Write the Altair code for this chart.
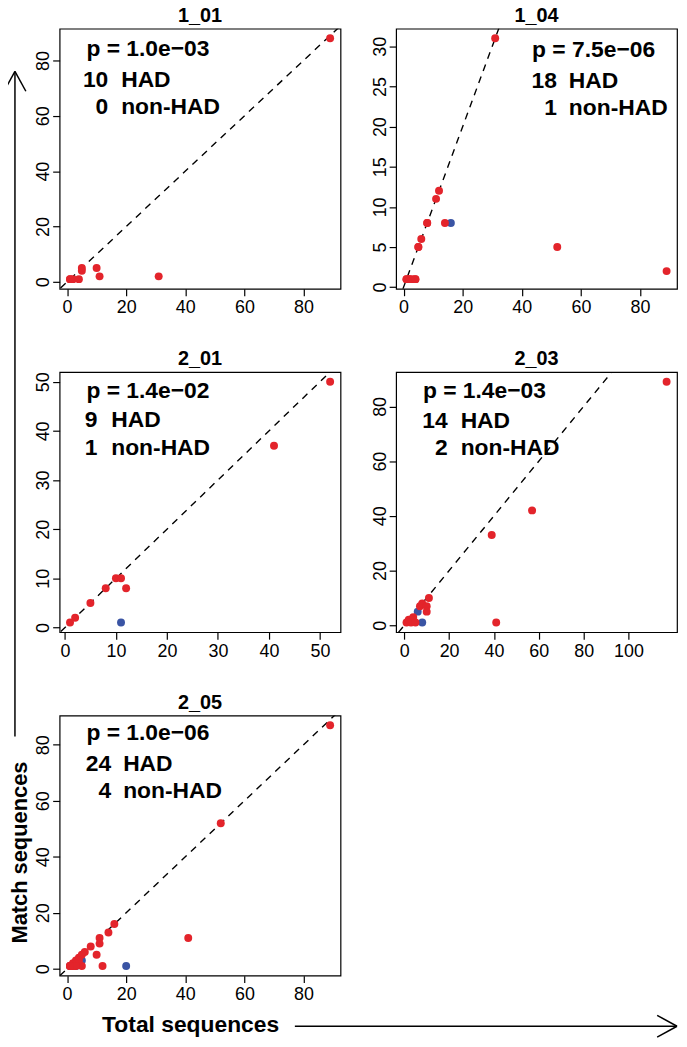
import altair as alt
import pandas as pd

FONT = "Liberation Sans"
RED = "#E3242B"
BLUE = "#3A54A4"

panels = ["1_01", "1_04", "2_01", "2_03", "2_05"]
pvals = ["p = 1.0e\u221203", "p = 7.5e\u221206", "p = 1.4e\u221202",
         "p = 1.4e\u221203", "p = 1.0e\u221206"]
had_n = [10, 18, 9, 14, 24]
nonhad_n = [0, 1, 1, 2, 4]

# HAD points (red): total sequences / match sequences
had_total = {
    "1_01": [1, 2, 4, 5, 5, 10, 11, 31, 89, 1],
    "1_04": [1, 2, 3, 4, 5, 6, 8, 8, 11, 12, 14, 31, 52, 89, 1, 5, 2, 4],
    "2_01": [1, 2, 5, 8, 10, 11, 12, 41, 52],
    "2_03": [1, 2, 3, 4, 5, 7, 8, 10, 10, 11, 39, 41, 57, 117],
    "2_05": [1, 2, 2, 3, 4, 5, 5, 8, 10, 11, 11, 12, 14, 16, 41, 52, 89,
             1, 3, 4, 6, 2, 3, 1],
}
had_match = {
    "1_01": [1, 1, 1, 4, 5, 5, 2, 2, 88, 1],
    "1_04": [1, 1, 1, 1, 5, 6, 8, 8, 11, 12, 8, 31, 5, 2, 1, 5, 1, 1],
    "2_01": [1, 2, 5, 8, 10, 10, 8, 37, 50],
    "2_03": [1, 2, 1, 3, 1, 7, 8, 7, 5, 10, 33, 1, 42, 89],
    "2_05": [1, 1, 2, 3, 4, 5, 1, 8, 5, 11, 9, 1, 13, 16, 11, 52, 87,
             1, 2, 3, 6, 1, 1, 1],
}
# non-HAD points (blue)
non_total = {"1_01": [], "1_04": [16], "2_01": [11], "2_03": [6, 8],
             "2_05": [20, 5, 3, 1]}
non_match = {"1_01": [], "1_04": [8], "2_01": [1], "2_03": [5, 1],
             "2_05": [1, 3, 1, 1]}

x_ticks = {"1_01": [0, 20, 40, 60, 80], "1_04": [0, 20, 40, 60, 80],
           "2_01": [0, 10, 20, 30, 40, 50], "2_03": [0, 20, 40, 60, 80, 100],
           "2_05": [0, 20, 40, 60, 80]}
y_ticks = {"1_01": [0, 20, 40, 60, 80], "1_04": [0, 5, 10, 15, 20, 25, 30],
           "2_01": [0, 10, 20, 30, 40, 50], "2_03": [0, 20, 40, 60, 80],
           "2_05": [0, 20, 40, 60, 80]}

# annotation placement inside each plot (pixels): p-text x, number right x, label x, row ys
ann_pos = {
    "1_01": (27, 49, 62, [21, 52, 79]),
    "1_04": (137, 162, 174, [22, 53, 80]),
    "2_01": (27, 38, 52, [19, 48, 76]),
    "2_03": (27, 52, 65, [19, 49, 76]),
    "2_05": (27, 52, 64, [18, 49, 76]),
}

W, H = 283, 262


def rlim(vals):
    lo, hi = min(vals), max(vals)
    d = (hi - lo) * 0.04
    return [lo - d, hi + d]


def txt(df, field, x, y, align, size=23, weight="bold", angle=0):
    return alt.Chart(df).mark_text(
        align=align, baseline="middle", font=FONT, fontSize=size,
        fontWeight=weight, color="black", angle=angle
    ).encode(x=alt.value(x), y=alt.value(y), text=f"{field}:N")


def rule(x1, y1, x2, y2):
    return alt.Chart(pd.DataFrame({"a": [0]})).mark_rule(
        color="black", strokeWidth=1.5
    ).encode(x=alt.value(x1), y=alt.value(y1), x2=alt.value(x2), y2=alt.value(y2))


def panel(i, name):
    tot = had_total[name] + non_total[name]
    mat = had_match[name] + non_match[name]
    grp = ["HAD"] * len(had_total[name]) + ["non-HAD"] * len(non_total[name])
    ordv = [1] * len(had_total[name]) + [0] * len(non_total[name])
    df = pd.DataFrame({"total": tot, "match": mat, "group": grp, "ord": ordv})
    xs = alt.Scale(domain=rlim(tot), nice=False, zero=False)
    ys = alt.Scale(domain=rlim(mat), nice=False, zero=False)
    xax = alt.Axis(values=x_ticks[name], tickSize=7, tickWidth=1.2, labelPadding=3,
                   labelFontSize=18, labelFont=FONT, domain=False, grid=False,
                   title=None, labelColor="black", tickColor="black",
                   labelFlush=False, labelOverlap=False)
    yax = alt.Axis(values=y_ticks[name], tickSize=7, tickWidth=1.2, labelPadding=4,
                   labelFontSize=18, labelFont=FONT, domain=False, grid=False,
                   title=None, labelColor="black", tickColor="black",
                   labelAngle=270, labelAlign="center", labelBaseline="alphabetic",
                   labelFlush=False, labelOverlap=False)
    line_df = pd.DataFrame({"total": [-50, 500], "match": [-50, 500]})
    line = alt.Chart(line_df).mark_line(
        strokeDash=[7, 6], color="black", strokeWidth=1.4, clip=True
    ).encode(x=alt.X("total:Q", scale=xs, axis=xax),
             y=alt.Y("match:Q", scale=ys, axis=yax))
    pts = alt.Chart(df).mark_circle(size=64, opacity=1).encode(
        x=alt.X("total:Q", scale=xs, axis=xax),
        y=alt.Y("match:Q", scale=ys, axis=yax),
        color=alt.Color("group:N", scale=alt.Scale(domain=["HAD", "non-HAD"],
                                                   range=[RED, BLUE]), legend=None),
        order=alt.Order("ord:Q"),
    )
    px, nx, lx, rows = ann_pos[name]
    ann = pd.DataFrame({"p": [pvals[i]], "nh": [str(had_n[i])], "nn": [str(nonhad_n[i])],
                        "lh": ["HAD"], "ln": ["non-HAD"]})
    layers = [line, pts,
              txt(ann, "p", px, rows[0], "left"),
              txt(ann, "nh", nx, rows[1], "right"),
              txt(ann, "lh", lx, rows[1], "left"),
              txt(ann, "nn", nx, rows[2], "right"),
              txt(ann, "ln", lx, rows[2], "left")]
    if name == "1_01":
        # vertical arrow (drawn downward from this panel so it does not push titles)
        layers += [
            rule(-45, 43, -45, 713),
            rule(-45, 43, -56, 63),
            rule(-45, 43, -34, 63),
        ]
    if name == "2_05":
        lab = pd.DataFrame({"ty": ["Match sequences"], "tx": ["Total sequences"]})
        layers += [
            txt(lab, "ty", -40, 138, "center", size=22, angle=270),
            txt(lab, "tx", 132, 312, "center"),
            # horizontal arrow
            rule(237, 313, 622, 313),
            rule(622, 313, 602, 302),
            rule(622, 313, 602, 324),
        ]
    return alt.layer(*layers).properties(
        width=W, height=H,
        title=alt.Title(name, fontSize=20, font=FONT, fontWeight="bold",
                        offset=3, frame="group", anchor="middle", color="black"),
    )


charts = [panel(i, n) for i, n in enumerate(panels)]

chart = alt.concat(
    *charts, columns=2, spacing={"row": 84, "column": 56}, bounds="flush"
).properties(
    autosize=alt.AutoSizeParams(type="none"),
    padding={"left": 52, "top": 17, "right": 624, "bottom": 1018},
).configure_view(stroke="black", strokeWidth=1.2)

chart.save("out.html", embed_options={"renderer": "svg", "actions": False})
